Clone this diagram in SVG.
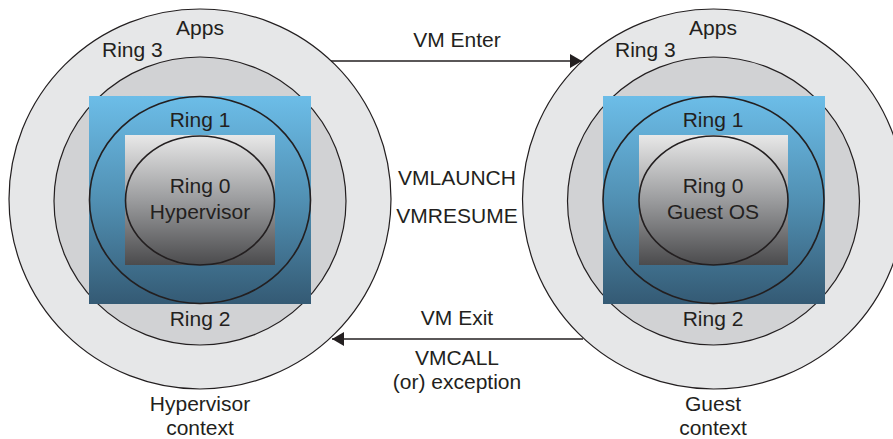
<svg xmlns="http://www.w3.org/2000/svg" width="893" height="439" viewBox="0 0 893 439">
<defs>
<linearGradient id="blue" x1="0" y1="0" x2="0" y2="1">
<stop offset="0" stop-color="#6cbde8"/>
<stop offset="0.5" stop-color="#5190b3"/>
<stop offset="1" stop-color="#345a74"/>
</linearGradient>
<linearGradient id="gray" x1="0" y1="0" x2="0" y2="1">
<stop offset="0" stop-color="#e8e8e8"/>
<stop offset="0.5" stop-color="#9b9c9e"/>
<stop offset="1" stop-color="#4b4b4d"/>
</linearGradient>
<marker id="ah" viewBox="0 0 12 14" refX="12" refY="7" markerWidth="12" markerHeight="14" markerUnits="userSpaceOnUse" orient="auto">
<path d="M0,0 L12,7 L0,14 Z" fill="#231f20"/>
</marker>
<style>
.r3{fill:#e6e7e8;stroke:#231f20;stroke-width:1.2}
.r2{fill:#d1d2d4;stroke:#231f20;stroke-width:1.2}
.bl{fill:url(#blue)}
.gr{fill:url(#gray)}
.ln{fill:none;stroke:#231f20;stroke-width:1.6}
.t{font-family:"Liberation Sans",Arial,sans-serif;font-size:21px;fill:#231f20;text-anchor:middle}
.tl{text-anchor:start}
.c{stroke:#231f20;stroke-width:1.6;fill:none}
</style>
</defs>
<g id="hypervisor">
<ellipse class="r3" cx="200" cy="199" rx="191" ry="190"/>
<ellipse class="r2" cx="200" cy="201" rx="146" ry="144"/>
<rect class="bl" x="89" y="96" width="222" height="208"/>
<ellipse class="ln" cx="200" cy="200" rx="110.5" ry="103.5"/>
<rect class="gr" x="125" y="135" width="150" height="130"/>
<ellipse class="ln" cx="200" cy="200.5" rx="74.5" ry="64.5"/>
<text class="t" x="200" y="35">Apps</text>
<text class="t tl" x="102" y="57">Ring 3</text>
<text class="t" x="200" y="127">Ring 1</text>
<text class="t" x="200" y="193">Ring 0</text>
<text class="t" x="200" y="219">Hypervisor</text>
<text class="t" x="200" y="326">Ring 2</text>
<text class="t" x="200" y="411">Hypervisor</text>
<text class="t" x="200" y="435">context</text>
</g>
<g id="guest">
<ellipse class="r3" cx="713.5" cy="199" rx="191" ry="190"/>
<ellipse class="r2" cx="713.5" cy="201" rx="146" ry="144"/>
<rect class="bl" x="603" y="96" width="222" height="208"/>
<ellipse class="ln" cx="713.5" cy="200" rx="110.5" ry="103.5"/>
<rect class="gr" x="639" y="135" width="149" height="130"/>
<ellipse class="ln" cx="713.5" cy="200.5" rx="74.5" ry="64.5"/>
<text class="t" x="713" y="35">Apps</text>
<text class="t tl" x="615" y="57">Ring 3</text>
<text class="t" x="713" y="127">Ring 1</text>
<text class="t" x="713" y="193">Ring 0</text>
<text class="t" x="713" y="219">Guest OS</text>
<text class="t" x="713" y="326">Ring 2</text>
<text class="t" x="713" y="411">Guest</text>
<text class="t" x="713" y="435">context</text>
</g>
<g id="connectors">
<line class="c" x1="331" y1="61" x2="582" y2="61" marker-end="url(#ah)"/>
<line class="c" x1="583" y1="339" x2="332" y2="339" marker-end="url(#ah)"/>
<text class="t" x="457" y="47">VM Enter</text>
<text class="t" x="457" y="185">VMLAUNCH</text>
<text class="t" x="457" y="223">VMRESUME</text>
<text class="t" x="457" y="325">VM Exit</text>
<text class="t" x="457" y="365">VMCALL</text>
<text class="t" x="457" y="389">(or) exception</text>
</g>
</svg>
